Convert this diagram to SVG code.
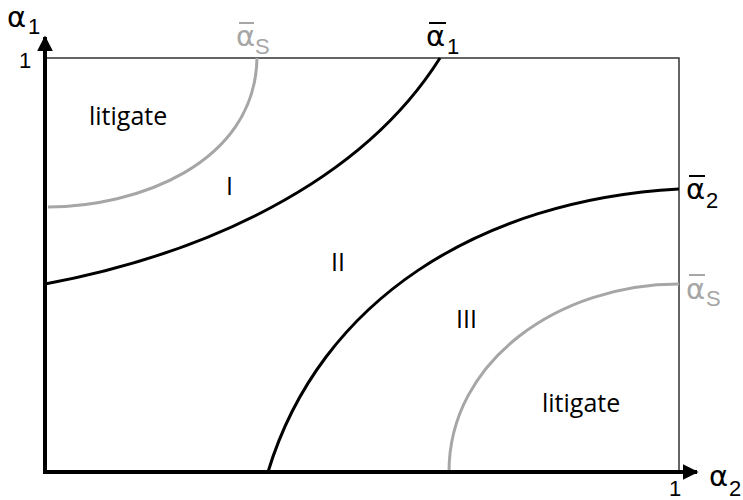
<svg xmlns="http://www.w3.org/2000/svg" width="743" height="500" viewBox="0 0 743 500">
<style>
.ar{font-family:"Liberation Sans",Arial,sans-serif}
.al{font-family:"DejaVu Sans",sans-serif}
.os{font-family:"Open Sans","Noto Sans",sans-serif}
.gc{fill:none;stroke:#a6a6a6;stroke-width:3}
.bc{fill:none;stroke:#000;stroke-width:3}
</style>
<defs>
<marker id="arr" viewBox="0 0 10 10" refX="9" refY="5" markerWidth="4" markerHeight="4" orient="auto">
<path d="M0,0L10,5L0,10z" fill="#000"/>
</marker>
</defs>
<rect x="45" y="58" width="634" height="414" fill="none" stroke="#333" stroke-width="1.5"/>
<g id="connectors">
<path class="gc" d="M48,207 C135,207 255,165 257,58"/>
<path class="bc" d="M45,284 C200,255 360,185 440,58"/>
<path class="bc" d="M268,472 C320,300 480,200 679,189"/>
<path class="gc" d="M449,472 C449,360 560,284 679,284"/>
<line x1="45" y1="474" x2="45" y2="37" stroke="#000" stroke-width="4" marker-end="url(#arr)"/>
<line x1="43" y1="472" x2="697" y2="472" stroke="#000" stroke-width="4" marker-end="url(#arr)"/>
</g>
<g id="labels" class="ar">
<text class="al" x="7" y="27" font-size="29" style="font-size:29px">α</text><text x="28" y="34" font-size="22" style="font-size:22px">1</text>
<text x="19" y="68" font-size="22" style="font-size:22px">1</text>
<text x="669" y="496" font-size="22" style="font-size:22px">1</text>
<text class="al" x="709" y="486" font-size="29" style="font-size:29px">α</text><text x="729" y="496" font-size="22" style="font-size:22px">2</text>
<text class="al" x="236" y="46" font-size="29" fill="#a6a6a6" style="font-size:29px">α</text><line x1="239" y1="23" x2="254" y2="23" stroke="#a6a6a6" stroke-width="2"/><text x="255" y="54" font-size="22" fill="#a6a6a6" style="font-size:22px">S</text>
<text class="al" x="426" y="46" font-size="29" style="font-size:29px">α</text><line x1="429" y1="23" x2="446" y2="23" stroke="#000" stroke-width="2"/><text x="447" y="54" font-size="22" style="font-size:22px">1</text>
<text class="al" x="686" y="199" font-size="29" style="font-size:29px">α</text><line x1="689" y1="176" x2="705" y2="176" stroke="#000" stroke-width="2"/><text x="706" y="208" font-size="22" style="font-size:22px">2</text>
<text class="al" x="686" y="299" font-size="29" fill="#a6a6a6" style="font-size:29px">α</text><line x1="689" y1="275" x2="705" y2="275" stroke="#a6a6a6" stroke-width="2"/><text x="706" y="306" font-size="22" fill="#a6a6a6" style="font-size:22px">S</text>
</g>
<g id="regions" class="os">
<text x="89" y="125" font-size="25" style="font-size:25px">litigate</text>
<text x="226" y="195" font-size="25" style="font-size:25px">I</text>
<text x="331" y="271" font-size="25" style="font-size:25px">II</text>
<text x="456" y="328" font-size="25" style="font-size:25px">III</text>
<text x="542" y="412" font-size="25" style="font-size:25px">litigate</text>
</g>
</svg>
